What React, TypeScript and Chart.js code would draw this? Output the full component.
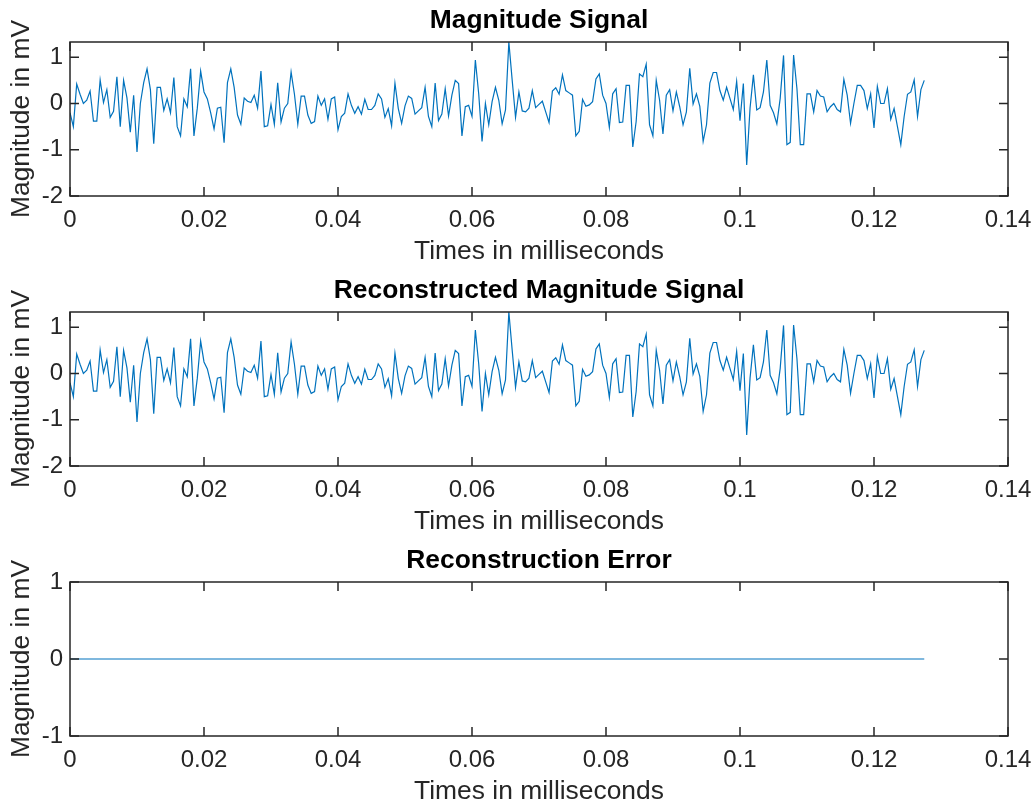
import React, { useEffect, useRef } from 'react';
import { Chart, registerables } from 'chart.js';

Chart.register(...registerables);

const FONT = '"Liberation Sans", Arial, Helvetica, sans-serif';
const AXIS_COLOR = '#262626';
const LINE_COLOR = '#0072BD';

const SAMPLE_INTERVAL_MS = 0.0005;

const magnitudeSignal: number[] = [
  -0.2, -0.5, 0.42, 0.2, 0.0, 0.07, 0.27, -0.38, -0.38, 0.51,
  0.02, 0.3, -0.3, -0.17, 0.58, -0.5, 0.5, 0.12, -0.62, 0.18,
  -1.05, 0.0, 0.45, 0.75, 0.3, -0.87, 0.35, 0.35, -0.15, 0.1,
  -0.2, 0.56, -0.5, -0.7, 0.1, -0.07, 0.75, -0.7, -0.1, 0.7,
  0.25, 0.1, -0.2, -0.55, -0.1, -0.08, -0.85, 0.45, 0.75, 0.35,
  -0.25, -0.45, 0.12, 0.05, 0.02, 0.18, -0.1, 0.7, -0.5, -0.48,
  -0.02, -0.45, 0.45, -0.4, -0.1, 0.0, 0.68, 0.2, -0.45,
  0.16, 0.16, -0.25, -0.43, -0.39, 0.16, -0.04,
  0.1, -0.34, 0.1, 0.14, -0.57, -0.28, -0.21, 0.21, -0.04, -0.21,
  -0.07, -0.23, 0.09, -0.13, -0.13, -0.04, 0.21, 0.1, -0.3, -0.11,
  -0.48, 0.44, -0.11,
  -0.43, -0.05,
  0.16, 0.11, -0.23, -0.16, -0.09, 0.35, -0.28, -0.5, 0.44, -0.37,
  -0.23, 0.32, -0.27, 0.18, 0.5, 0.43, -0.7, -0.07, -0.04, -0.28,
  0.94, 0.21, -0.82,
  0.0, -0.46, 0.04, 0.35, 0.07, -0.44, -0.14, 1.33, 0.5, -0.3,
  0.25, -0.16, -0.18, -0.1, 0.28, -0.09, -0.02, 0.05, -0.18, -0.41,
  0.27, 0.34, 0.2, 0.62, 0.28, 0.23, 0.18,
  -0.7, -0.6, 0.09, -0.06, -0.03, 0.04, 0.53, 0.64, 0.18, 0.0,
  -0.52, 0.21, 0.32, -0.41, -0.4, 0.39, 0.39, -0.94, -0.39, 0.64,
  0.58, 0.85, -0.46,
  -0.7, 0.5, 0.07, -0.66, 0.18, 0.3, -0.16, 0.25, -0.07, -0.46,
  -0.18, 0.76, -0.01, 0.21, -0.06, -0.82, -0.46, 0.44, 0.67, 0.67,
  0.28, 0.07, 0.35, 0.11, -0.13,
  0.48, -0.37, 0.43, -1.33, -0.1, 0.62, -0.14, -0.09, 0.25, 0.94,
  -0.04, -0.2, -0.44, 0.11, 1.04, -0.89, -0.84, 1.05, 0.32, -0.89,
  -0.89, 0.21, 0.21, -0.18, 0.28,
  0.16, 0.14, -0.18, -0.07, 0.0, -0.13, -0.18, 0.52, 0.18, -0.43,
  0.0, 0.39, 0.39, 0.28, -0.11, 0.21, -0.53, 0.37, 0.0, 0.0,
  0.32, -0.34, -0.11, -0.5, -0.89, -0.28, 0.2, 0.25, 0.51, -0.28,
  0.3, 0.5,
];

// The reconstruction is identical to the original signal in the picture.
const reconstructedSignal: number[] = magnitudeSignal.slice();
// The reconstruction error is flat at zero.
const reconstructionError: number[] = magnitudeSignal.map(() => 0);

const xTickValues = [0, 0.02, 0.04, 0.06, 0.08, 0.1, 0.12, 0.14];
const xTickLabels = ['0', '0.02', '0.04', '0.06', '0.08', '0.1', '0.12', '0.14'];
const signalYTicks = [-2, -1, 0, 1];
const errorYTicks = [-1, 0, 1];

const TITLES = ['Magnitude Signal', 'Reconstructed Magnitude Signal', 'Reconstruction Error'];
const X_LABEL = 'Times in milliseconds';
const Y_LABEL = 'Magnitude in mV';

const CANVAS_W = 1036;
const CANVAS_H = 270;

const axesBoxPlugin = {
  id: 'axesBox',
  afterDatasetsDraw(chart: any) {
    const { ctx, chartArea, scales } = chart;
    const { left, right, top, bottom } = chartArea;
    const len = 9;
    ctx.save();
    ctx.strokeStyle = AXIS_COLOR;
    ctx.lineWidth = 1.5;
    ctx.strokeRect(left, top, right - left, bottom - top);
    ctx.beginPath();
    scales.x.ticks.forEach((t: any) => {
      const px = scales.x.getPixelForValue(t.value);
      ctx.moveTo(px, bottom);
      ctx.lineTo(px, bottom - len);
      ctx.moveTo(px, top);
      ctx.lineTo(px, top + len);
    });
    scales.y.ticks.forEach((t: any) => {
      const py = scales.y.getPixelForValue(t.value);
      ctx.moveTo(left, py);
      ctx.lineTo(left + len, py);
      ctx.moveTo(right, py);
      ctx.lineTo(right - len, py);
    });
    ctx.stroke();
    ctx.restore();
  },
};

type SubPlotProps = {
  title: string;
  values: number[];
  yMin: number;
  yMax: number;
  yTicks: number[];
  top: number;
};

function zeroPadding(s: any) {
  s.paddingLeft = 0;
  s.paddingRight = 0;
  s.paddingTop = 0;
  s.paddingBottom = 0;
}

function SubPlot({ title, values, yMin, yMax, yTicks, top }: SubPlotProps) {
  const ref = useRef<HTMLCanvasElement | null>(null);

  useEffect(() => {
    if (!ref.current) return;
    const chart = new Chart(ref.current, {
      type: 'line',
      data: {
        datasets: [
          {
            data: values.map((v, i) => ({ x: i * SAMPLE_INTERVAL_MS, y: v })),
            borderColor: LINE_COLOR,
            borderWidth: 1.2,
            pointRadius: 0,
            fill: false,
            tension: 0,
          },
        ],
      },
      options: {
        animation: false,
        responsive: false,
        devicePixelRatio: 1,
        layout: { padding: { left: 0, right: 28, top: 0, bottom: 0 } },
        plugins: {
          legend: { display: false },
          tooltip: { enabled: false },
          title: {
            display: true,
            fullSize: false,
            text: title,
            color: '#000000',
            font: { family: FONT, size: 26.4, weight: 'bold', lineHeight: 1 },
            padding: { top: 8, bottom: 7.6 },
          },
        },
        scales: {
          x: {
            type: 'linear',
            min: 0,
            max: 0.14,
            grid: { display: false, drawTicks: false },
            border: { display: false },
            afterBuildTicks: (s: any) => {
              s.ticks = xTickValues.map((v) => ({ value: v }));
            },
            afterFit: (s: any) => {
              s.height = 74;
              zeroPadding(s);
            },
            ticks: {
              autoSkip: false,
              maxRotation: 0,
              padding: 12,
              color: AXIS_COLOR,
              font: { family: FONT, size: 24, lineHeight: 1 },
              callback: (_v: any, i: number) => xTickLabels[i],
            },
            title: {
              display: true,
              text: X_LABEL,
              color: AXIS_COLOR,
              font: { family: FONT, size: 26.4, lineHeight: 1 },
              padding: { top: 4.8, bottom: 4.8 },
            },
          },
          y: {
            type: 'linear',
            min: yMin,
            max: yMax,
            grid: { display: false, drawTicks: false },
            border: { display: false },
            afterBuildTicks: (s: any) => {
              s.ticks = yTicks.map((v) => ({ value: v }));
            },
            afterFit: (s: any) => {
              s.width = 70;
              zeroPadding(s);
            },
            ticks: {
              padding: 7,
              color: AXIS_COLOR,
              font: { family: FONT, size: 24, lineHeight: 1 },
              callback: (v: any) => String(v),
            },
            title: {
              display: true,
              text: Y_LABEL,
              color: AXIS_COLOR,
              font: { family: FONT, size: 26.4, lineHeight: 1 },
              padding: { top: 8.8, bottom: 8.8 },
            },
          },
        },
      },
      plugins: [axesBoxPlugin],
    } as any);
    return () => chart.destroy();
  }, [title, values, yMin, yMax, yTicks]);

  return (
    <canvas
      ref={ref}
      width={CANVAS_W}
      height={CANVAS_H}
      style={{ position: 'absolute', left: 0, top, width: CANVAS_W, height: CANVAS_H }}
    />
  );
}

export default function App() {
  return (
    <div
      style={{
        position: 'absolute',
        left: 0,
        top: 0,
        width: CANVAS_W,
        height: 805,
        overflow: 'hidden',
        background: '#ffffff',
      }}
    >
      <SubPlot title={TITLES[0]} values={magnitudeSignal} yMin={-2} yMax={1.33} yTicks={signalYTicks} top={0} />
      <SubPlot title={TITLES[1]} values={reconstructedSignal} yMin={-2} yMax={1.33} yTicks={signalYTicks} top={270} />
      <SubPlot title={TITLES[2]} values={reconstructionError} yMin={-1} yMax={1} yTicks={errorYTicks} top={540} />
    </div>
  );
}
